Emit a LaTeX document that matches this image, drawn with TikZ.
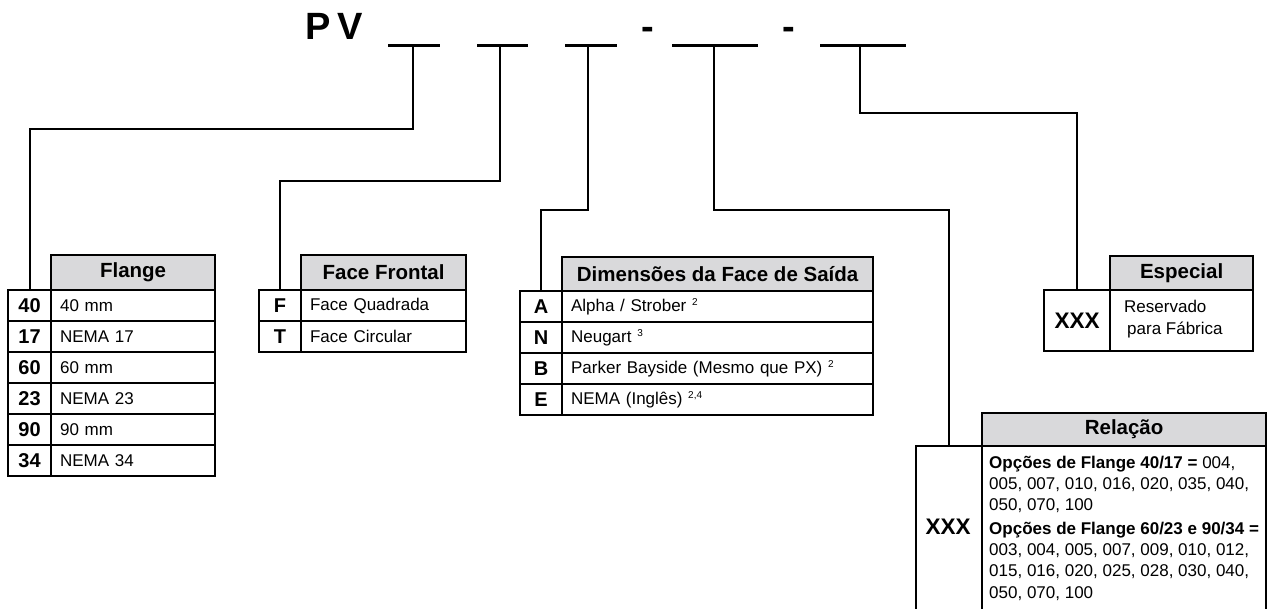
\documentclass[tikz,border=0pt]{standalone}
\usepackage{fontspec}
\setmainfont{Liberation Sans}
\definecolor{hdrgray}{RGB}{217,217,219}
\newcommand{\supnum}[1]{\raisebox{5.5pt}{\fontsize{10}{10}\selectfont #1}}
\begin{document}
\begin{tikzpicture}[x=1pt,y=-1pt,
  conn/.style={line width=1.8pt},
  ul/.style={line width=3pt},
  titletxt/.style={inner sep=0pt, anchor=base west, font=\fontsize{38}{40}\selectfont\bfseries},
  box/.style={draw, line width=2.2pt, inner sep=0pt, anchor=north west},
  hdr/.style={box, fill=hdrgray, font=\fontsize{20.5}{24}\selectfont\bfseries},
  keycell/.style={box, font=\fontsize{20}{24}\selectfont\bfseries},
  bigkey/.style={font=\fontsize{22.5}{24}\selectfont\bfseries},
  valcell/.style={box, inner xsep=9pt, text width=#1, align=left, font=\fontsize{17}{20}\selectfont},
]
\useasboundingbox (0,0) rectangle (1268,609);
\clip (0,0) rectangle (1268,609);

% title
\node[titletxt] (tp) at (305,40) {P};
\node[titletxt] (tv) at (337,40) {V};
\node[titletxt] (h1) at (641,40) {-};
\node[titletxt] (h2) at (782,40) {-};

% underlines
\coordinate (u1a) at (388,46); \coordinate (u1b) at (440,46); \coordinate (c1) at (413,46);
\coordinate (u2a) at (477,46); \coordinate (u2b) at (528,46); \coordinate (c2) at (500,46);
\coordinate (u3a) at (565,46); \coordinate (u3b) at (617,46); \coordinate (c3) at (588,46);
\coordinate (u4a) at (672,46); \coordinate (u4b) at (758,46); \coordinate (c4) at (714,46);
\coordinate (u5a) at (820,46); \coordinate (u5b) at (906,46); \coordinate (c5) at (860,46);
\draw[ul] (u1a) -- (u1b);
\draw[ul] (u2a) -- (u2b);
\draw[ul] (u3a) -- (u3b);
\draw[ul] (u4a) -- (u4b);
\draw[ul] (u5a) -- (u5b);

% Flange table
\node[hdr, minimum width=164pt, minimum height=35pt] (flh) at (50,254) {Flange};
\foreach \k/\v [count=\i from 0] in {40/40 mm, 17/NEMA 17, 60/60 mm, 23/NEMA 23, 90/90 mm, 34/NEMA 34} {
  \node[keycell, minimum width=43pt, minimum height=31pt] (flk\i) at (7,{289+31*\i}) {\k};
  \node[valcell=146pt, minimum height=31pt] (flv\i) at (50,{289+31*\i}) {\v};
}

% Face Frontal table
\node[hdr, minimum width=165pt, minimum height=35pt] (ffh) at (300,254) {Face Frontal};
\foreach \k/\v [count=\i from 0] in {F/Face Quadrada, T/Face Circular} {
  \node[keycell, minimum width=42pt, minimum height=31pt] (ffk\i) at (258,{289+31*\i}) {\k};
  \node[valcell=147pt, minimum height=31pt] (ffv\i) at (300,{289+31*\i}) {\v};
}

% Dimensoes table
\node[hdr, minimum width=311pt, minimum height=34pt] (dmh) at (561,256) {Dimensões da Face de Saída};
\foreach \k/\v [count=\i from 0] in {A/{Alpha / Strober \supnum{2}}, N/{Neugart \supnum{3}}, B/{Parker Bayside (Mesmo que PX) \supnum{2}}, E/{NEMA (Inglês) \supnum{2,4}}} {
  \node[keycell, minimum width=42pt, minimum height=31pt] (dmk\i) at (519,{290+31*\i}) {\k};
  \node[valcell=293pt, minimum height=31pt] (dmv\i) at (561,{290+31*\i}) {\v};
}

% Especial table
\node[hdr, minimum width=143pt, minimum height=34pt] (esh) at (1109,255) {Especial};
\node[keycell, bigkey, minimum width=66pt, minimum height=61pt] (esk) at (1043,289) {XXX};
\node[box, minimum width=143pt, minimum height=61pt] (esv) at (1109,289) {};
\node[inner sep=0pt, anchor=north west, align=left, font=\fontsize{17}{22}\selectfont] (est) at (1124,300) {Reservado\\\hspace*{3pt}para Fábrica};

% Relacao table (continues below the picture edge)
\node[hdr, minimum width=284pt, minimum height=33pt] (rlh) at (981,412) {Relação};
\node[box, minimum width=66pt, minimum height=190pt] (rlk) at (915,445) {};
\node[bigkey, inner sep=0pt] (rlkt) at (948,527) {XXX};
\node[box, minimum width=284pt, minimum height=190pt] (rlv) at (981,445) {};
\node[inner sep=0pt, anchor=north west, align=left, font=\fontsize{17}{21}\selectfont] (rlt) at (989,456)
  {\textbf{Opções de Flange 40/17 =} 004,\\
   005, 007, 010, 016, 020, 035, 040,\\
   050, 070, 100\\[3pt]
   \textbf{Opções de Flange 60/23 e 90/34 =}\\
   003, 004, 005, 007, 009, 010, 012,\\
   015, 016, 020, 025, 028, 030, 040,\\[1pt]
   050, 070, 100};

% connectors
\draw[conn] (c1) -- ++(0,83) -| (flk0.north);
\draw[conn] (c2) -- ++(0,135) -| (ffk0.north);
\draw[conn] (c3) -- ++(0,164) -| (dmk0.north);
\draw[conn] (c4) -- ++(0,164) -| (rlk.north);
\draw[conn] (c5) -- ++(0,67) -| (esk.north);
\end{tikzpicture}
\end{document}
